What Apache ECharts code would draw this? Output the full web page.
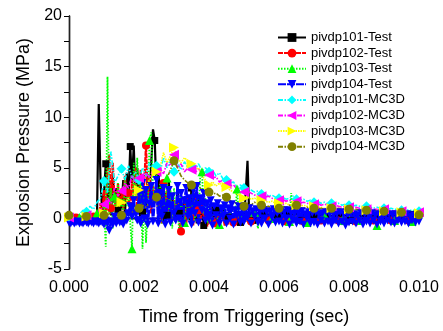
<!DOCTYPE html>
<html><head><meta charset="utf-8">
<script src="https://cdn.jsdelivr.net/npm/echarts@6/dist/echarts.min.js"></script>
<style>html,body{margin:0;padding:0;background:#fff}#c{width:443px;height:331px}</style>
</head><body><div id="c"></div>
<script>
// sampling grids (seconds)
const testTimeStep = 0.00005;   // measured series
const simTimeStep = 0.0001;     // MC3D series

// Explosion pressure (MPa)
const pivdp101Test = [
0.1,0.0,0.1,-0.1,0.0,0.1,0.0,-0.1,0.1,0.0,
0.1,0.0,-0.1,0.0,0.1,0.0,0.2,11.3,3.8,0.5,
2.5,5.4,1.2,3.5,0.3,4.2,1.5,3.0,0.8,2.6,
1.0,3.8,0.5,4.5,2.0,7.1,3.5,7.2,2.0,5.0,
1.5,3.8,0.6,3.0,1.2,4.2,2.0,5.5,8.8,7.7,
2.5,5.2,1.0,3.5,-0.4,2.5,0.3,3.8,0.8,2.2,
2.2,-0.3,2.8,0.5,1.8,-0.5,2.0,0.2,1.5,-0.2,
3.0,0.4,1.2,-0.5,2.0,0.1,1.0,-0.7,0.8,-0.6,
0.5,-0.4,1.2,0.0,0.8,-0.3,1.0,0.2,0.9,-0.4,
0.6,0.1,0.8,-0.5,0.5,-0.3,0.7,-0.2,-0.4,-0.5,
-0.4,-0.3,5.7,0.2,0.6,-0.2,0.8,0.0,0.5,-0.3,
0.6,0.1,0.7,-0.2,0.4,0.0,0.6,-0.3,0.5,0.1,
0.3,-0.2,0.6,0.0,0.5,0.2,0.7,-0.1,0.4,0.1,
0.6,0.0,0.5,-0.2,0.4,0.1,0.6,0.0,0.5,-0.1,
0.4,0.1,0.6,-0.1,0.5,0.0,0.4,0.2,0.6,-0.2,
0.3,0.1,0.5,0.0,0.4,-0.1,0.5,0.1,0.3,0.0,
0.4,-0.2,0.5,0.1,0.4,0.0,0.3,-0.1,0.5,0.0,
0.4,0.1,0.3,-0.1,0.4,0.0,0.5,0.1,0.3,-0.1,
0.4,0.0,0.3,0.1,0.5,-0.1,0.3,0.0,0.4,0.1,
0.3,-0.1,0.4,0.0,0.3,0.1,0.4,0.0,0.3,-0.1,
0.2];
const pivdp102Test = [
0.0,0.1,-0.1,0.0,0.1,0.0,-0.1,0.1,0.0,0.1,
0.0,-0.1,0.1,0.0,0.2,0.1,0.3,0.0,1.5,0.2,
2.8,0.5,4.5,6.3,1.0,5.5,2.0,0.8,3.5,0.5,
3.0,0.8,4.2,1.5,2.5,0.3,3.8,1.2,5.0,0.6,
2.2,4.8,1.0,3.5,7.2,2.0,4.0,0.5,3.2,1.5,
3.8,0.2,2.5,-0.5,3.5,0.8,2.8,0.0,2.0,-0.3,
1.8,0.5,2.2,-0.4,-1.3,0.6,1.5,-0.6,2.0,0.0,
1.2,-0.7,2.5,0.2,0.8,-0.5,1.5,0.0,0.6,-0.8,
0.8,-0.6,1.0,0.0,-0.5,0.5,-0.8,0.6,0.2,-0.7,
0.5,-0.6,0.7,-0.2,-0.4,0.3,-0.5,0.6,0.0,-0.4,
0.4,-0.3,0.5,0.0,-0.3,0.3,-0.2,0.4,0.0,-0.4,
0.3,-0.2,0.5,0.0,-0.2,0.2,-0.4,0.3,0.1,-0.3,
0.4,-0.2,0.3,0.0,-0.3,0.2,-0.2,0.5,0.0,-0.3,
0.3,-0.1,0.4,0.0,-0.3,0.2,-0.3,0.3,0.0,-0.2,
0.3,-0.2,0.4,0.1,-0.2,0.2,-0.3,0.3,0.0,-0.2,
0.2,-0.3,0.3,0.0,-0.2,0.1,-0.3,0.3,0.0,-0.2,
0.3,-0.2,0.2,0.0,-0.3,0.2,-0.2,0.3,0.0,-0.3,
0.2,-0.2,0.3,0.0,-0.2,0.1,-0.3,0.2,0.0,-0.2,
0.2,-0.3,0.3,0.0,-0.2,0.1,-0.2,0.2,0.0,-0.3,
0.2,-0.2,0.3,0.0,-0.2,0.1,-0.2,0.2,0.0,-0.2,
0.1];
const pivdp103Test = [
0.0,0.1,0.0,-0.1,0.1,0.0,0.1,0.0,-0.1,0.1,
0.0,0.1,0.0,0.2,0.1,0.3,0.5,0.2,0.8,0.4,
1.5,-2.8,14.0,0.5,3.0,-1.0,2.2,0.8,3.5,0.3,
2.0,0.5,4.0,1.2,3.0,-0.5,-3.0,5.5,2.0,6.0,
1.5,3.5,-3.0,2.5,-2.4,0.8,7.7,8.5,3.0,1.5,
4.5,0.8,3.5,-0.5,2.0,1.2,4.0,0.5,2.8,-1.0,
3.0,0.3,1.5,-1.5,2.5,0.0,-0.4,1.8,-0.2,2.2,
0.5,3.5,-0.3,1.5,0.0,4.2,4.6,0.5,2.0,-0.5,
1.5,-0.6,0.8,0.2,1.2,-0.3,-0.6,0.8,0.0,1.0,
-0.4,0.6,0.0,1.2,-0.2,0.5,2.9,0.3,-0.4,0.8,
0.0,1.2,-0.3,0.5,0.2,-0.2,0.6,0.0,-1.0,0.5,
0.3,-0.2,0.8,0.1,-0.3,0.5,0.0,-0.2,1.0,0.2,
0.5,-0.3,0.4,0.0,0.8,0.2,-0.3,2.5,0.3,0.0,
0.3,-0.3,0.5,0.0,0.2,-0.2,-0.4,0.4,0.0,-0.3,
0.3,-0.2,0.4,0.0,0.2,-0.3,0.3,0.1,-0.2,0.3,
0.0,-0.3,0.3,0.1,-0.2,0.2,-0.2,0.3,0.0,-0.2,
0.2,-0.1,0.3,0.0,-0.3,0.2,-0.2,0.2,0.0,-0.3,
0.2,-0.2,0.3,0.0,-0.2,0.1,-0.7,0.2,0.0,-0.3,
0.2,-0.2,0.3,0.0,-0.2,0.1,-0.2,0.2,0.0,-0.2,
0.1,-0.2,0.2,0.0,-0.2,0.1,-0.3,0.2,0.0,-0.2,
0.0];
const pivdp104Test = [
-0.4,-0.5,-0.3,-0.5,-0.4,-0.3,-0.5,-0.4,-0.5,-0.3,
-0.4,-0.5,-0.3,-0.4,-0.5,-0.3,-0.4,-0.5,-0.3,-0.4,
-0.6,-0.2,-0.5,-1.2,-0.3,-0.6,0.2,-0.5,-0.2,-0.4,
-0.3,-0.6,0.3,-0.2,0.5,1.2,0.2,1.8,0.5,-0.2,
2.5,-0.5,3.5,0.0,2.8,-0.6,1.5,3.2,-0.3,2.0,
3.8,-0.5,2.5,0.2,3.0,-0.6,1.2,2.8,-0.4,2.2,
0.5,-0.2,3.2,0.0,2.5,-0.5,1.8,3.0,0.2,2.0,
-0.6,2.8,0.5,3.2,-0.4,2.0,0.8,2.5,-0.2,1.5,
0.0,1.8,-0.7,1.2,0.3,1.5,-0.5,1.0,0.2,1.3,
-0.5,1.0,0.0,1.4,-0.6,0.8,0.3,1.2,-0.4,0.9,
-0.3,0.8,0.1,1.0,-0.5,0.7,0.2,0.9,-0.4,0.6,
-0.5,0.8,0.0,0.6,-0.6,0.7,0.1,0.9,-0.4,0.5,
-0.3,0.7,-0.5,0.6,0.0,0.8,-0.6,0.5,-0.2,0.6,
-0.5,0.5,-0.3,0.7,-0.6,0.4,0.0,0.6,-0.5,0.5,
-0.4,0.6,-0.6,0.4,-0.2,0.5,-0.5,0.6,-0.3,0.4,
-0.6,0.5,-0.2,0.4,-0.5,0.6,-0.3,0.4,-0.7,0.5,
-0.4,0.5,-0.3,0.4,-0.5,0.3,-0.2,0.5,-0.6,0.4,
-0.3,0.4,-0.5,0.5,-0.2,0.3,-0.6,0.4,-0.3,0.5,
-0.5,0.3,-0.2,0.4,-0.4,0.3,-0.5,0.4,-0.2,0.3,
-0.4,0.3,-0.3,0.4,-0.5,0.2,-0.2,0.3,-0.4,0.2,
-0.3];
const pivdp101MC3D = [
0.2,0.2,0.3,0.4,0.8,0.65,1.2,0.9,1.6,2.0,
3.7,2.5,6.6,3.5,4.2,4.9,3.8,5.2,4.0,4.6,
3.8,5.0,4.2,5.5,4.6,5.2,4.5,6.0,5.0,5.8,
4.6,5.5,4.8,5.6,5.0,5.2,4.8,5.4,4.7,5.0,
4.6,4.8,4.2,4.5,3.9,3.8,3.5,3.6,3.1,3.3,
3.0,2.9,2.8,2.6,2.7,2.4,2.5,2.2,2.3,2.1,
2.0,2.1,1.9,2.0,2.2,1.9,1.8,1.9,1.7,1.8,
1.6,1.7,1.5,1.6,1.4,1.5,1.4,1.5,1.3,1.4,
1.3,1.2,1.3,1.2,1.1,1.2,1.1,1.0,1.1,1.0,
1.0,0.9,1.0,0.9,0.9,0.8,0.9,0.8,0.8,0.8,
0.7];
const pivdp102MC3D = [
0.1,0.1,0.2,0.1,0.2,0.3,0.2,0.4,0.5,0.8,
1.4,2.0,1.5,3.0,2.2,2.7,3.5,3.0,4.2,3.5,
4.0,3.6,4.5,4.0,4.8,4.6,5.0,4.4,5.5,5.2,
6.3,5.0,5.4,4.6,5.0,4.8,4.5,4.9,4.4,4.6,
4.3,4.0,4.1,3.6,3.8,3.4,3.2,3.3,2.9,3.0,
2.6,2.7,2.5,2.3,2.4,2.2,2.1,2.2,2.0,1.9,
1.8,1.9,1.7,1.8,1.6,1.7,1.5,1.6,1.5,1.4,
1.4,1.5,1.3,1.4,1.3,1.2,1.3,1.2,1.1,1.2,
1.1,1.0,1.1,1.0,1.0,0.9,1.0,0.9,0.9,0.8,
0.9,0.8,0.8,0.7,0.8,0.7,0.7,0.7,0.6,0.7,
0.6];
const pivdp103MC3D = [
0.1,0.1,0.1,0.2,0.1,0.2,0.2,0.3,0.3,0.4,
0.5,0.8,0.6,1.2,1.0,1.6,1.4,2.0,2.5,2.2,
2.8,3.2,3.0,3.8,4.2,4.6,5.0,6.5,5.5,6.2,
7.0,6.0,5.5,6.0,5.6,5.4,4.8,5.0,4.2,3.8,
3.3,3.6,3.2,3.5,3.0,3.1,2.8,2.6,2.4,2.2,
2.0,2.2,1.9,2.0,1.8,1.8,1.7,1.6,1.7,1.5,
1.5,1.4,1.5,1.3,1.4,1.3,1.2,1.3,1.2,1.1,
1.2,1.1,1.1,1.0,1.1,1.0,1.0,0.9,1.0,0.9,
0.9,0.9,0.8,0.9,0.8,0.8,0.8,0.7,0.8,0.7,
0.7,0.7,0.7,0.6,0.7,0.6,0.6,0.6,0.6,0.5,
0.5];
const pivdp104MC3D = [
0.3,0.2,0.3,0.2,0.2,0.2,0.2,0.3,0.2,0.3,
0.3,0.4,0.5,0.4,0.3,0.3,0.5,0.8,0.6,0.9,
1.0,1.3,1.1,1.5,1.8,2.1,2.5,3.2,4.0,4.8,
5.7,5.0,4.2,3.8,3.5,3.3,3.0,3.2,2.8,2.7,
2.6,2.4,2.5,2.2,2.3,2.1,1.8,1.6,1.5,1.3,
1.2,1.5,1.3,1.6,1.4,1.3,1.1,1.2,1.0,1.1,
1.0,1.2,1.1,1.3,1.2,1.3,1.1,1.0,1.1,0.9,
1.0,0.9,1.0,0.9,1.0,1.0,0.9,1.0,0.9,0.9,
0.9,0.8,0.9,0.8,0.9,0.8,0.8,0.8,0.7,0.8,
0.7,0.7,0.6,0.7,0.6,0.6,0.6,0.5,0.5,0.4,
0.35];

const seriesNames = ['pivdp101-Test','pivdp102-Test','pivdp103-Test','pivdp104-Test',
  'pivdp101-MC3D','pivdp102-MC3D','pivdp103-MC3D','pivdp104-MC3D'];
const xRange = [0, 0.010], xStep = 0.002;
const yRange = [-5, 20], yStep = 5;

const FONT = 'Liberation Sans, Arial, Helvetica, sans-serif';
const toPairs = (arr, step) => arr.map((y, i) => [i * step, y]);
const markEvery = (n, off, size) => (v, p) => (p.dataIndex % n === off ? size : 0);

const TRI_DOWN = 'path://M0,0L10,0L5,9Z';
const TRI_LEFT = 'path://M9,0L9,10L0,5Z';
const TRI_RIGHT = 'path://M0,0L9,5L0,10Z';

const styles = [
  {data: pivdp101Test, step: testTimeStep, color:'#000000', type:'solid', width:2.2, symbol:'rect', size: markEvery(7,0,7)},
  {data: pivdp102Test, step: testTimeStep, color:'#ff0000', type:[5,1], width:2.2, symbol:'circle', size: markEvery(10,4,8)},
  {data: pivdp103Test, step: testTimeStep, color:'#00ff00', type:[1.5,1.5], width:1.8, symbol:'triangle', size: markEvery(10,6,9)},
  {data: pivdp104Test, step: testTimeStep, color:'#0000ff', type:[8,1], width:2.6, symbol:TRI_DOWN, size: markEvery(1,0,8)},
  {data: pivdp101MC3D, step: simTimeStep, color:'#00ffff', type:[5,1.5,1.5,1.5,1.5,1.5], width:1.6, symbol:'diamond', size: markEvery(5,0,10)},
  {data: pivdp102MC3D, step: simTimeStep, color:'#ff00ff', type:[5,1.5,1.5,1.5], width:1.6, symbol:TRI_LEFT, size: markEvery(5,0,10)},
  {data: pivdp103MC3D, step: simTimeStep, color:'#ffff00', type:[1.5,1], width:1.6, symbol:TRI_RIGHT, size: markEvery(5,0,10)},
  {data: pivdp104MC3D, step: simTimeStep, color:'#808000', type:[5,1.5,1.5,1.5], width:1.6, symbol:'circle', size: markEvery(5,0,9)}
];

const series = styles.map((s, k) => ({
  name: seriesNames[k], type: 'line', xAxisIndex: 0, yAxisIndex: 0,
  data: toPairs(s.data, s.step),
  symbol: s.symbol, symbolSize: s.size, showSymbol: true,
  lineStyle: {color: s.color, width: s.width, type: s.type},
  itemStyle: {color: s.color, borderWidth: 0},
  emphasis: {disabled: true}, animation: false, z: 2
}));

const axisLineStyle = {lineStyle: {color: '#222', width: 1.4}};
const chart = echarts.init(document.getElementById('c'), null, {renderer: 'canvas'});
chart.setOption({
  backgroundColor: '#fff',
  animation: false,
  textStyle: {fontFamily: FONT},
  grid: {left: 69, right: 24, top: 16, bottom: 59},
  legend: {
    data: seriesNames, orient: 'vertical', left: 277, top: 31, padding: 0,
    itemWidth: 28, itemHeight: 11, itemGap: 2.6,
    textStyle: {fontFamily: FONT, fontSize: 13, color: '#000'},
    selectedMode: false
  },
  xAxis: [
    {type: 'value', min: xRange[0], max: xRange[1], interval: xStep, position: 'bottom',
     axisLine: axisLineStyle, splitLine: {show: false},
     axisTick: {inside: false, length: 5, lineStyle: {color: '#000'}},
     minorTick: {show: true, splitNumber: 2, length: 3, lineStyle: {color: '#000'}},
     axisLabel: {fontSize: 16, color: '#000', fontFamily: FONT, margin: 11, formatter: v => v.toFixed(3)},
     name: 'Time from Triggering (sec)', nameLocation: 'middle', nameGap: 39,
     nameTextStyle: {fontSize: 18, color: '#000', fontFamily: FONT}},
    {type: 'value', min: xRange[0], max: xRange[1], interval: xStep / 2, position: 'top',
     axisLine: axisLineStyle, splitLine: {show: false},
     axisTick: {inside: false, length: 4, lineStyle: {color: '#000'}},
     axisLabel: {show: false}}
  ],
  yAxis: [
    {type: 'value', min: yRange[0], max: yRange[1], interval: yStep, position: 'left',
     axisLine: axisLineStyle, splitLine: {show: false},
     axisTick: {inside: false, length: 5, lineStyle: {color: '#000'}},
     minorTick: {show: true, splitNumber: 2, length: 3, lineStyle: {color: '#000'}},
     axisLabel: {fontSize: 16, color: '#000', fontFamily: FONT, margin: 7},
     name: 'Explosion Pressure (MPa)', nameLocation: 'middle', nameGap: 31, nameRotate: 90,
     nameTextStyle: {fontSize: 18, color: '#000', fontFamily: FONT}},
    {type: 'value', min: yRange[0], max: yRange[1], interval: yStep / 2, position: 'right',
     axisLine: axisLineStyle, splitLine: {show: false},
     axisTick: {inside: true, length: 5, lineStyle: {color: '#000'}},
     axisLabel: {show: false}}
  ],
  series: series
});
</script>
</body></html>
